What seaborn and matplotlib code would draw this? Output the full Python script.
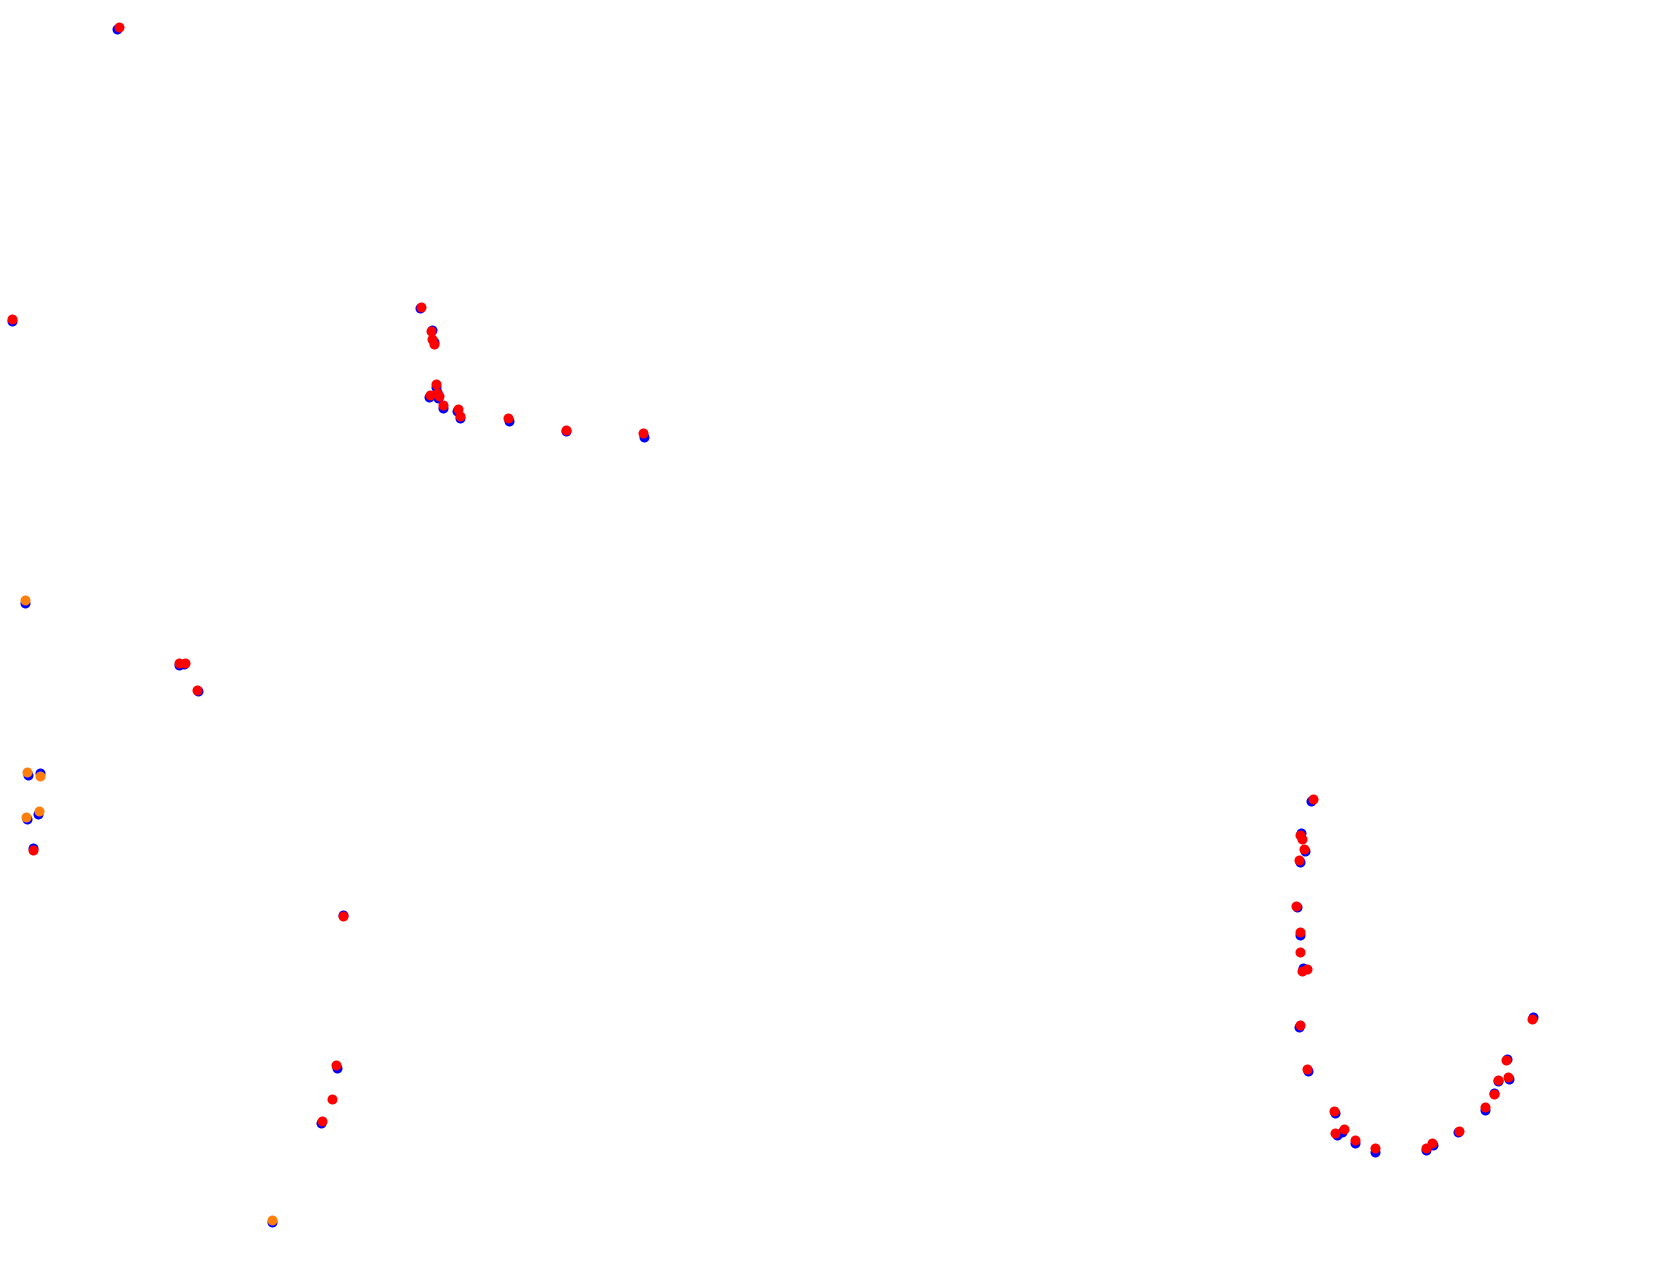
import seaborn as sns
import matplotlib.pyplot as plt
import pandas as pd

# puntos de referencia (azul) y puntos estimados (rojo / naranja)
blue_x = [117.3, 11.7, 420.0, 432.0, 434.3, 435.7, 429.3, 437.0, 438.3, 443.3, 457.3, 460.0,
          509.0, 566.0, 644.0, 24.7, 179.0, 184.3, 198.0, 28.0, 39.7, 26.7, 37.7, 32.7,
          343.3, 337.3, 320.7, 271.5, 1311.3, 1301.0, 1305.0, 1300.0, 1297.3, 1300.0,
          1303.3, 1299.0, 1308.3, 1335.0, 1336.7, 1341.7, 1355.0, 1375.0, 1426.0, 1432.7,
          1458.3, 1485.0, 1494.0, 1497.7, 1509.0, 1506.7, 1532.7]
blue_y = [29.3, 321.0, 308.3, 330.0, 341.7, 386.7, 396.7, 391.7, 398.3, 408.3, 410.7, 418.3,
          421.0, 431.0, 436.7, 602.7, 665.3, 664.3, 691.0, 775.0, 773.3, 819.3, 814.3, 848.3,
          915.0, 1067.7, 1122.7, 1221.5, 801.0, 833.3, 851.0, 861.7, 907.3, 935.0,
          968.3, 1026.7, 1071.0, 1112.7, 1135.0, 1131.7, 1142.7, 1151.7, 1150.0, 1145.0,
          1132.0, 1110.0, 1092.7, 1080.7, 1079.0, 1059.3, 1017.3]

red_x = [118.7, 12.0, 421.0, 431.0, 432.0, 434.0, 435.7, 430.0, 436.7, 438.7, 442.7, 458.3,
         460.0, 507.7, 566.0, 643.0, 179.0, 185.0, 197.0, 33.0, 342.7, 336.3, 332.0, 321.7,
         1312.7, 1300.0, 1302.3, 1304.0, 1299.0, 1295.7, 1300.0, 1300.0, 1302.0, 1307.3,
         1300.0, 1307.0, 1333.7, 1335.0, 1344.0, 1355.0, 1375.0, 1426.0, 1431.7, 1459.0,
         1485.0, 1494.0, 1497.7, 1508.0, 1506.0, 1532.3]
red_y = [27.0, 319.0, 307.3, 330.7, 339.3, 344.0, 384.0, 395.3, 392.7, 396.0, 405.0, 409.3,
         415.7, 418.3, 430.0, 433.3, 663.3, 662.7, 689.7, 850.0, 916.0, 1064.7, 1099.0, 1120.7,
         798.7, 835.0, 839.0, 849.3, 860.0, 905.7, 932.0, 951.7, 970.7, 969.3,
         1025.0, 1068.7, 1110.7, 1132.7, 1129.0, 1140.0, 1148.3, 1147.7, 1143.3, 1130.7,
         1107.3, 1094.3, 1080.0, 1076.7, 1060.0, 1019.3]

orange_x = [24.7, 27.0, 40.0, 26.0, 39.0, 272.0]
orange_y = [600.0, 771.7, 776.0, 817.0, 811.3, 1219.6]

fig = plt.figure(figsize=(16.79, 12.63), dpi=100)
ax = fig.add_axes([0, 0, 1, 1])

sns.scatterplot(x=blue_x, y=blue_y, color="#0000ff", s=52, linewidth=0, ax=ax)
sns.scatterplot(x=red_x, y=red_y, color="#ff0000", s=52, linewidth=0, ax=ax)
sns.scatterplot(x=orange_x, y=orange_y, color="#ff7f0e", s=52, linewidth=0, ax=ax)

ax.set_xlim(0, 1679)
ax.set_ylim(1263, 0)
ax.axis("off")

plt.savefig("out.png", dpi=100)
